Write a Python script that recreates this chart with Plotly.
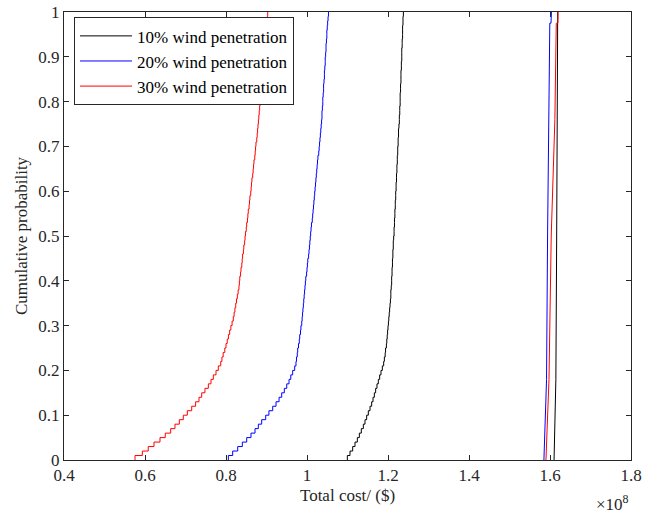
import numpy as np
import plotly.graph_objects as go

# Empirical CDF samples (total cost, x 1e8 $), 100 sorted samples per case
cost_10 = [1.0996, 1.1062, 1.1128, 1.1185, 1.1243, 1.1292, 1.1341, 1.1391, 1.1432, 1.1473,
           1.1514, 1.1556, 1.1597, 1.1630, 1.1663, 1.1695, 1.1728, 1.1761, 1.1794, 1.1827,
           1.1860, 1.1893,
           1.191, 1.193, 1.194,
           1.196, 1.197, 1.198, 1.199, 1.200, 1.201, 1.202, 1.203, 1.204, 1.205, 1.206,
           1.207, 1.207, 1.208, 1.209, 1.209, 1.210, 1.210, 1.211, 1.211, 1.212, 1.212, 1.213, 1.213, 1.214,
           1.215, 1.215, 1.216, 1.216, 1.217, 1.217, 1.218, 1.218, 1.219, 1.219, 1.220, 1.220, 1.221,
           1.221, 1.222, 1.222, 1.223, 1.223, 1.224, 1.224, 1.225, 1.225, 1.226, 1.226, 1.227, 1.228,
           1.228, 1.229, 1.229, 1.230, 1.230, 1.230, 1.231, 1.231, 1.232, 1.232, 1.232, 1.233,
           1.233, 1.234, 1.234, 1.234, 1.235, 1.235, 1.236, 1.236, 1.236, 1.237, 1.237, 1.238]

cost_20 = [0.8058, 0.8165, 0.8289, 0.8403, 0.8511, 0.8617, 0.8716, 0.8798, 0.8881, 0.8980,
           0.9060, 0.9153, 0.9235, 0.9310, 0.9375, 0.9440, 0.9500, 0.9556, 0.9600, 0.9646,
           0.9696, 0.9728,
           0.974, 0.976, 0.977,
           0.979, 0.981, 0.982, 0.984, 0.985, 0.987, 0.988,
           0.989, 0.990, 0.991, 0.992, 0.993, 0.994, 0.995,
           0.996, 0.997, 0.999, 1.000, 1.001, 1.002, 1.004, 1.005, 1.006, 1.007, 1.008, 1.009, 1.010,
           1.011, 1.013,
           1.014, 1.015, 1.016, 1.017, 1.018, 1.019, 1.020, 1.021, 1.022, 1.023, 1.024, 1.025, 1.026,
           1.027, 1.029,
           1.030, 1.031, 1.032, 1.033, 1.034, 1.035, 1.036,
           1.037, 1.037, 1.038, 1.039, 1.039, 1.040, 1.041, 1.041, 1.042, 1.043, 1.043, 1.044,
           1.045, 1.045, 1.046, 1.047, 1.047, 1.048, 1.049, 1.049, 1.050, 1.051, 1.052, 1.053]

cost_30 = [0.5753, 0.5934, 0.6080, 0.6222, 0.6370, 0.6500, 0.6634, 0.6740, 0.6848, 0.6946,
           0.7045, 0.7153, 0.7250, 0.7333, 0.7400, 0.7480, 0.7564, 0.7630, 0.7687, 0.7753,
           0.7810, 0.7870,
           0.790, 0.793, 0.797,
           0.800, 0.803, 0.806, 0.809, 0.812, 0.815, 0.818,
           0.820, 0.822, 0.824, 0.826, 0.828, 0.830, 0.832,
           0.833, 0.834, 0.836, 0.837, 0.839, 0.840, 0.841, 0.843, 0.844, 0.846, 0.847, 0.848, 0.850,
           0.851, 0.853,
           0.854, 0.855, 0.857, 0.858, 0.859, 0.861, 0.862, 0.863, 0.864, 0.866, 0.867, 0.868, 0.869,
           0.871, 0.872,
           0.873, 0.874, 0.876, 0.877, 0.878, 0.879, 0.880,
           0.881, 0.882, 0.883, 0.884, 0.885, 0.886, 0.887, 0.888, 0.889, 0.890, 0.891, 0.892,
           0.893, 0.894, 0.895, 0.896, 0.897, 0.897, 0.898, 0.899, 0.900, 0.901, 0.902, 0.903]

# Reference cost distributions near 1.6e8, read as quantile points
base_prob_10 = [0.0, 0.18, 0.5, 0.76, 0.98, 1.0]
base_cost_10 = [1.610, 1.6145, 1.6165, 1.6170, 1.6180, 1.6190]
base_prob_20 = [0.0, 0.18, 0.5, 0.76, 0.975, 0.975, 1.0]
base_cost_20 = [1.585, 1.5915, 1.594, 1.597, 1.5995, 1.6025, 1.6035]
base_prob_30 = [0.0, 0.18, 0.5, 0.76, 0.975, 0.975, 1.0]
base_cost_30 = [1.590, 1.5975, 1.603, 1.612, 1.6155, 1.6195, 1.6200]

series_names = ["10% wind penetration", "20% wind penetration", "30% wind penetration"]
series_colors = ["#000000", "#0000ff", "#ff0000"]

FONT = "Liberation Serif"
AX = "#262626"

fig = go.Figure()
samples = [cost_10, cost_20, cost_30]
bases = [(base_cost_10, base_prob_10), (base_cost_20, base_prob_20), (base_cost_30, base_prob_30)]
for name, color, s in zip(series_names, series_colors, samples):
    xs = np.sort(np.array(s))
    n = len(xs)
    ys = np.arange(1, n + 1) / n
    fig.add_trace(go.Scatter(
        x=np.concatenate([[xs[0]], xs]), y=np.concatenate([[0.0], ys]),
        mode="lines", line=dict(color=color, width=1, shape="hv"),
        name=name))
for name, color, (bc, bp) in zip(series_names, series_colors, bases):
    fig.add_trace(go.Scatter(
        x=bc, y=bp, mode="lines", line=dict(color=color, width=1),
        name=name + " (reference)", showlegend=False))

axis_common = dict(showline=True, linecolor=AX, linewidth=1, mirror="ticks",
                   ticks="inside", ticklen=5, tickcolor=AX, tickwidth=1,
                   showgrid=False, zeroline=False, automargin=False,
                   tickfont=dict(family=FONT, size=17, color=AX))

fig.update_layout(
    width=668, height=517,
    margin=dict(l=64, r=37, t=12, b=57),
    paper_bgcolor="white", plot_bgcolor="white",
    font=dict(family=FONT, size=17, color=AX),
    xaxis=dict(range=[0.4, 1.8], dtick=0.2, tick0=0.4,
               title=dict(text="Total cost/ ($)", font=dict(family=FONT, size=17, color=AX), standoff=4),
               **axis_common),
    yaxis=dict(range=[0, 1], dtick=0.1, tick0=0,
               title=dict(text="Cumulative probability", font=dict(family=FONT, size=17, color=AX), standoff=6),
               **axis_common),
    legend=dict(x=0.0176, y=0.9881, xanchor="left", yanchor="top",
                bgcolor="white", bordercolor=AX, borderwidth=1,
                font=dict(family=FONT, size=17, color="#000000"),
                itemwidth=52),
    showlegend=True,
    annotations=[dict(text="×10<sup>8</sup>", xref="paper", yref="paper",
                      x=1.0, y=-0.095, xanchor="right", yanchor="middle",
                      showarrow=False, font=dict(family=FONT, size=17, color=AX))],
)

fig.write_html("out.html")
